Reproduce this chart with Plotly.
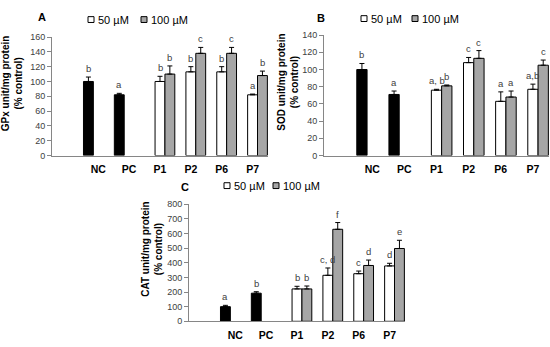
import plotly.graph_objects as go

W, H = 550, 347

categories = ["NC", "PC", "P1", "P2", "P6", "P7"]
series_names = ["50 µM", "100 µM"]

# Panel A: GPx
gpx_ctrl = [100, 82, None, None, None, None]
gpx_ctrl_err = [6, 2, None, None, None, None]
gpx_50 = [None, None, 100, 113, 113, 82]
gpx_50_err = [None, None, 7, 7, 7, 1]
gpx_100 = [None, None, 110, 138, 138, 108]
gpx_100_err = [None, None, 11, 8, 8, 6]
gpx_ctrl_let = ["b", "a", "", "", "", ""]
gpx_50_let = ["", "", "b", "b", "b", "a"]
gpx_100_let = ["", "", "b", "c", "c", "b"]

# Panel B: SOD
sod_ctrl = [100, 71, None, None, None, None]
sod_ctrl_err = [7, 4, None, None, None, None]
sod_50 = [None, None, 76, 108, 63, 77]
sod_50_err = [None, None, 1, 6, 11, 6]
sod_100 = [None, None, 81, 113, 68, 105]
sod_100_err = [None, None, 1, 9, 7, 6]
sod_ctrl_let = ["b", "a", "", "", "", ""]
sod_50_let = ["", "", "a, b", "c", "a", "a,b"]
sod_100_let = ["", "", "b", "c", "a", "c"]

# Panel C: CAT
cat_ctrl = [100, 192, None, None, None, None]
cat_ctrl_err = [9, 10, None, None, None, None]
cat_50 = [None, None, 221, 314, 325, 378]
cat_50_err = [None, None, 18, 50, 18, 18]
cat_100 = [None, None, 221, 628, 381, 497]
cat_100_err = [None, None, 20, 46, 37, 56]
cat_ctrl_let = ["a", "b", "", "", "", ""]
cat_50_let = ["", "", "b", "c, d", "c", "d"]
cat_100_let = ["", "", "b", "f", "d", "e"]

COL_CTRL = "#000000"
COL_50 = "#ffffff"
COL_100 = "#a6a6a6"
FONT = "Liberation Sans, Arial, sans-serif"
AXCOL = "#868686"
BARGAP = 0.04

def px(x):
    return x / W

def py(y):
    return 1 - y / H

panels = [
    dict(key="", ctrl=gpx_ctrl, ctrl_err=gpx_ctrl_err, s50=gpx_50, s50_err=gpx_50_err,
         s100=gpx_100, s100_err=gpx_100_err, lets=(gpx_ctrl_let, gpx_50_let, gpx_100_let),
         yrange=[0, 160], dtick=20, xdom=[px(52), px(268)], ydom=[py(155), py(33)],
         title="GPx unit/mg protein<br>(% control)", tx=11.5, ty=81, letter="A", lx=42, ly=12,
         leg=(88, 141, 15)),
    dict(key="2", ctrl=sod_ctrl, ctrl_err=sod_ctrl_err, s50=sod_50, s50_err=sod_50_err,
         s100=sod_100, s100_err=sod_100_err, lets=(sod_ctrl_let, sod_50_let, sod_100_let),
         yrange=[0, 140], dtick=20, xdom=[px(324), px(549)], ydom=[py(155), py(31)],
         title="SOD unit/mg protein<br>(% control)", tx=288, ty=80, letter="B", lx=321, ly=13,
         leg=(361, 412, 14)),
    dict(key="3", ctrl=cat_ctrl, ctrl_err=cat_ctrl_err, s50=cat_50, s50_err=cat_50_err,
         s100=cat_100, s100_err=cat_100_err, lets=(cat_ctrl_let, cat_50_let, cat_100_let),
         yrange=[0, 800], dtick=100, xdom=[px(189), px(405)], ydom=[py(325.7), py(205)],
         title="CAT unit/mg protein<br>(% control)", tx=152, ty=252, letter="C", lx=184.5, ly=187,
         leg=(224, 273, 186)),
]

fig = go.Figure()
annotations = []
shapes = []
slot = (1 - BARGAP) / 3

for p in panels:
    k = p["key"]
    xa, ya = "x" + k, "y" + k
    for vals, errs, col in ((p["ctrl"], p["ctrl_err"], COL_CTRL),
                            (p["s50"], p["s50_err"], COL_50),
                            (p["s100"], p["s100_err"], COL_100)):
        fig.add_trace(go.Bar(
            x=categories, y=vals, xaxis=xa, yaxis=ya,
            marker=dict(color=col, line=dict(color="black", width=1)),
            error_y=dict(type="data", symmetric=False, array=errs,
                         arrayminus=[0 if e is not None else None for e in errs],
                         color="black", thickness=1, width=2.5),
            showlegend=False,
        ))
    # letters above error bars
    for off, vals, errs, lets in ((-slot, p["ctrl"], p["ctrl_err"], p["lets"][0]),
                                  (0.0, p["s50"], p["s50_err"], p["lets"][1]),
                                  (slot, p["s100"], p["s100_err"], p["lets"][2])):
        for i, (v, e, t) in enumerate(zip(vals, errs, lets)):
            if v is None or not t:
                continue
            annotations.append(dict(
                x=i + off, y=v + e, xref=xa, yref=ya, text=t, showarrow=False,
                yanchor="bottom", xanchor="center", yshift=1,
                font=dict(family=FONT, size=9.5, color="#404040")))
    # axes
    axx = "xaxis" + k
    axy = "yaxis" + k
    fig.update_layout(**{
        axx: dict(domain=p["xdom"], anchor=ya, type="category",
                  categoryorder="array", categoryarray=categories,
                  range=[-1.5, 5.5], showline=True, linecolor=AXCOL, linewidth=1,
                  ticks="", showgrid=False, zeroline=False, ticklabelstandoff=4,
                  tickfont=dict(family=FONT, size=10.5, color="black", weight="bold")),
        axy: dict(domain=p["ydom"], anchor=xa, range=p["yrange"], dtick=p["dtick"],
                  showline=True, linecolor=AXCOL, linewidth=1, ticks="outside",
                  ticklen=4, tickcolor=AXCOL, showgrid=False, zeroline=False,
                  tickfont=dict(family=FONT, size=9, color="#404040")),
    })
    # y title
    annotations.append(dict(
        x=px(p["tx"]), y=py(p["ty"]), xref="paper", yref="paper", text=p["title"],
        textangle=-90, showarrow=False, xanchor="center", yanchor="middle",
        font=dict(family=FONT, size=10, color="black", weight="bold")))
    # panel letter
    annotations.append(dict(
        x=px(p["lx"]), y=py(p["ly"]), xref="paper", yref="paper", text=p["letter"],
        showarrow=False, xanchor="center", yanchor="middle",
        font=dict(family=FONT, size=11, color="black", weight="bold")))
    # legend
    lx1, lx2, lyc = p["leg"]
    for sx, col, name in ((lx1, COL_50, series_names[0]), (lx2, COL_100, series_names[1])):
        shapes.append(dict(type="rect", xref="paper", yref="paper",
                           x0=px(sx), x1=px(sx + 6), y0=py(lyc + 3), y1=py(lyc - 3),
                           fillcolor=col, line=dict(color="black", width=1)))
        annotations.append(dict(
            x=px(sx + 7.5), y=py(lyc), xref="paper", yref="paper", text=name,
            showarrow=False, xanchor="left", yanchor="middle",
            font=dict(family=FONT, size=11, color="black")))

fig.update_layout(
    width=W, height=H, margin=dict(l=0, r=0, t=0, b=0),
    paper_bgcolor="white", plot_bgcolor="white",
    barmode="group", bargap=BARGAP, bargroupgap=0,
    annotations=annotations, shapes=shapes, showlegend=False,
)

fig.write_html(
    "out.html",
    config={"displayModeBar": False},
    post_script="document.body.style.margin='0';document.body.style.padding='0';"
                "document.body.style.overflow='hidden';",
)
